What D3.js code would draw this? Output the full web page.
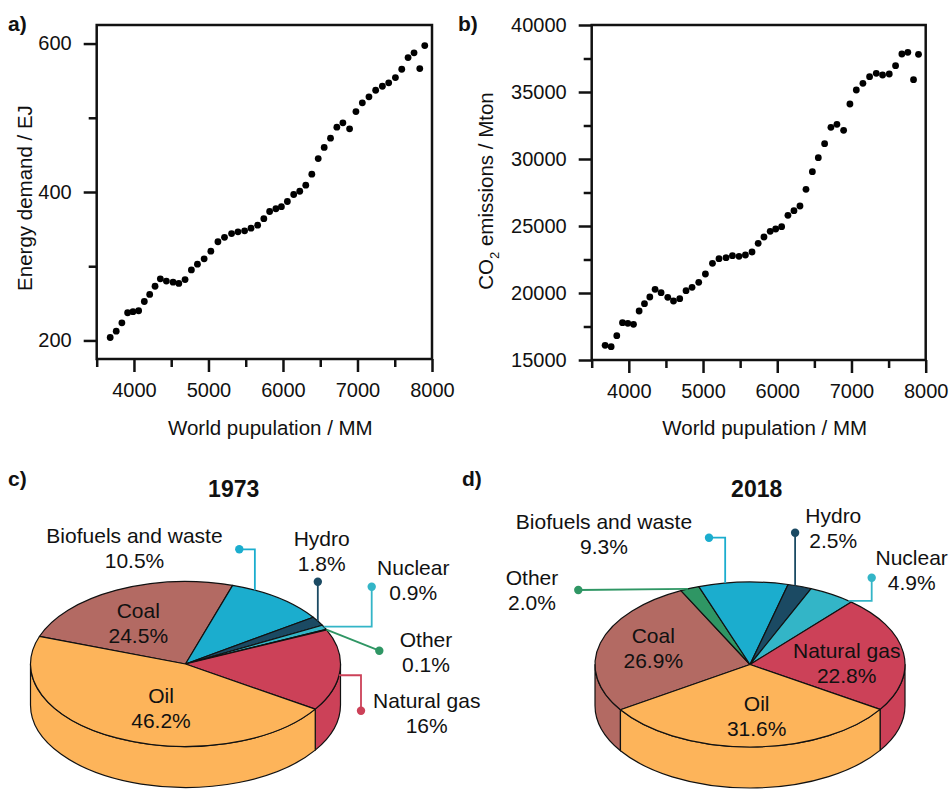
<!DOCTYPE html>
<html>
<head>
<meta charset="utf-8">
<script src="https://cdnjs.cloudflare.com/ajax/libs/d3/7.8.5/d3.min.js"></script>
<style>
body { margin: 0; background: #fff; }
text { font-family: "Liberation Sans", Arial, sans-serif; fill: #111; }
</style>
</head>
<body>
<svg id="fig" width="951" height="790"></svg>
<script>
// world population (MM), one value per year 1970-2021
var population = [3681,3762,3838,3915,3987,4063,4139,4211,4283,4354,
  4435,4525,4602,4686,4771,4852,4942,5032,5127,5215,
  5310,5396,5485,5571,5660,5743,5821,5905,5979,6059,
  6144,6225,6306,6387,6473,6553,6638,6723,6804,6894,
  6979,7065,7154,7244,7334,7419,7509,7594,7679,7759,
  7836,7903];
// energy demand (EJ)
var energyDemand = [204,212.5,223.8,237.3,238.7,240,252.5,262,273,283,
  280,278.5,276.8,282,295,302.8,310,320.3,333,339,
  344,346.4,347.7,351.2,355.3,364,373.7,377.4,380.2,387.2,
  396.6,401,409.2,424,445,460,472.5,487.3,493.2,485.1,
  508.4,520.1,528.2,537.1,542.5,547.1,554.2,565.4,581.1,587.5,
  566.3,597.3];
// CO2 emissions (Mton)
var co2Emissions = [16097,15993,16813,17784,17739,17664,18657,19200,19701,20276,
  20025,19677,19403,19577,20170,20423,20796,21418,22214,22560,
  22634,22784,22736,22836,23060,23706,24179,24600,24776,24948,
  25799,26142,26493,27739,29052,30097,31142,32366,32590,32142,
  34104,35149,35649,36142,36396,36269,36343,36963,37836,37963,
  35918,37813];

var popTicks = [4000, 5000, 6000, 7000, 8000];
var popMinor = [3500, 4500, 5500, 6500, 7500];
var energyTicks = [200, 400, 600];
var energyMinor = [300, 500];
var co2Ticks = [15000, 20000, 25000, 30000, 35000, 40000];
var co2Minor = [17500, 22500, 27500, 32500, 37500];

// energy mix shares (%), in drawing order round the pie
var categories1973 = ["Coal", "Biofuels and waste", "Hydro", "Nuclear", "Other", "Natural gas", "Oil"];
var shares1973 = [24.5, 10.5, 1.8, 0.9, 0.1, 16, 46.2];
var shareLabels1973 = ["24.5%", "10.5%", "1.8%", "0.9%", "0.1%", "16%", "46.2%"];
var categories2018 = ["Coal", "Other", "Biofuels and waste", "Hydro", "Nuclear", "Natural gas", "Oil"];
var shares2018 = [26.9, 2.0, 9.3, 2.5, 4.9, 22.8, 31.6];
var shareLabels2018 = ["26.9%", "2.0%", "9.3%", "2.5%", "4.9%", "22.8%", "31.6%"];

var colors = {
  "Oil": "#fdb45a",
  "Coal": "#b36a63",
  "Biofuels and waste": "#1badce",
  "Hydro": "#1b4a63",
  "Nuclear": "#33b5c7",
  "Other": "#2f9664",
  "Natural gas": "#cc4158"
};

var svg = d3.select("#fig");

function scatter(opt) {
  var g = svg.append("g");
  var x = d3.scaleLinear().domain([3500, 8000]).range([opt.left, opt.right]);
  var y = d3.scaleLinear().domain(opt.ydom).range([opt.bottom, opt.top]);

  // minor + major ticks
  g.append("g").attr("transform", "translate(0," + opt.bottom + ")")
    .call(d3.axisBottom(x).tickValues(popMinor).tickSize(8).tickFormat(""));
  g.append("g").attr("transform", "translate(0," + opt.bottom + ")")
    .call(d3.axisBottom(x).tickValues(popTicks).tickSize(13).tickPadding(11).tickFormat(d3.format("d")));
  g.append("g").attr("transform", "translate(" + opt.left + ",0)")
    .call(d3.axisLeft(y).tickValues(opt.minor).tickSize(8).tickFormat(""));
  g.append("g").attr("transform", "translate(" + opt.left + ",0)")
    .call(d3.axisLeft(y).tickValues(opt.ticks).tickSize(13).tickPadding(12).tickFormat(d3.format("d")));

  g.selectAll(".domain").remove();
  g.selectAll(".tick line").attr("stroke", "#111").attr("stroke-width", 2.5);
  g.selectAll(".tick text").attr("font-size", 20);

  g.append("rect")
    .attr("x", opt.left).attr("y", opt.top)
    .attr("width", opt.right - opt.left).attr("height", opt.bottom - opt.top)
    .attr("fill", "none").attr("stroke", "#111").attr("stroke-width", 2.5);

  g.append("g").selectAll("circle")
    .data(population)
    .enter().append("circle")
    .attr("cx", function (d) { return x(d); })
    .attr("cy", function (d, i) { return y(opt.values[i]); })
    .attr("r", 3.4)
    .attr("fill", "#000");

  // axis titles
  g.append("text")
    .attr("x", (opt.left + opt.right) / 2 + 6).attr("y", 435)
    .attr("text-anchor", "middle").attr("font-size", 20.5)
    .text("World pupulation / MM");

  var yt = g.append("text")
    .attr("transform", "translate(" + opt.ytitleX + "," + opt.ytitleY + ") rotate(-90)")
    .attr("text-anchor", "middle").attr("font-size", 20.5);
  opt.ytitle.forEach(function (p) {
    var t = yt.append("tspan").text(p.t);
    if (p.sub) t.attr("font-size", 13).attr("dy", 6);
    if (p.after) t.attr("dy", -6);
  });

  svg.append("text").attr("x", opt.tagX).attr("y", 31)
    .attr("font-size", 21).attr("font-weight", "bold").text(opt.tag);
}

scatter({
  left: 96.7, right: 432, top: 25, bottom: 359,
  ydom: [175, 625], ticks: energyTicks, minor: energyMinor,
  values: energyDemand,
  ytitle: [{t: "Energy demand / EJ"}], ytitleX: 32, ytitleY: 198,
  tag: "a)", tagX: 8
});

scatter({
  left: 591.7, right: 925.7, top: 25, bottom: 360,
  ydom: [15000, 40000], ticks: co2Ticks, minor: co2Minor,
  values: co2Emissions,
  ytitle: [{t: "CO"}, {t: "2", sub: true}, {t: " emissions / Mton", after: true}],
  ytitleX: 493, ytitleY: 191,
  tag: "b)", tagX: 458
});

// label layout for the pies (text position, leader-line dot and routing)
var layout1973 = {
  "Coal": {x: 138.3, y: 618.3},
  "Biofuels and waste": {x: 134.5, y: 543, dot: [239.3, 549.3], route: "hv", at: 0.235},
  "Hydro": {x: 321.7, y: 546, dot: [0, 581.7], route: "v", at: 0.48},
  "Nuclear": {x: 413.3, y: 575, dot: [371.7, 586.7], route: "vh", at: 0.35},
  "Other": {x: 426, y: 646.7, dot: [379.3, 650.7], route: "line", at: 0.5},
  "Natural gas": {x: 426.7, y: 708.3, dot: [361, 710.7], route: "vh", at: 0.56},
  "Oil": {x: 161, y: 703.3}
};
var layout2018 = {
  "Coal": {x: 653.3, y: 643.3},
  "Other": {x: 532, y: 585, dot: [578.3, 590], route: "line", at: 0.4},
  "Biofuels and waste": {x: 604, y: 529.3, dot: [709, 537.7], route: "hv", at: 0.3},
  "Hydro": {x: 833.3, y: 522.7, dot: [0, 532.7], route: "v", at: 0.3},
  "Nuclear": {x: 911.7, y: 565, dot: [871.7, 577.7], route: "vh", at: 0.92},
  "Natural gas": {x: 846.7, y: 658.3},
  "Oil": {x: 756.7, y: 710.7}
};

function pie3d(opt) {
  var rx = 155, ry = 82.5, depth = 41;
  var g = svg.append("g");
  var arcs = d3.pie().sort(null)
    .startAngle(opt.start).endAngle(opt.start + 2 * Math.PI)(opt.values);

  function pt(a, dz) {
    return [opt.cx + rx * Math.sin(a), opt.cy - ry * Math.cos(a) + (dz || 0)];
  }
  function P(p) { return p[0].toFixed(2) + "," + p[1].toFixed(2); }

  // front walls (visible half of the cylinder)
  var fronts = [[Math.PI / 2, 3 * Math.PI / 2], [-3 * Math.PI / 2, -Math.PI / 2]];
  var walls = [];
  arcs.forEach(function (d, i) {
    fronts.forEach(function (f) {
      var s = Math.max(d.startAngle, f[0]), e = Math.min(d.endAngle, f[1]);
      if (e > s) walls.push({s: s, e: e, cat: opt.cats[i]});
    });
  });
  g.selectAll(".wall").data(walls).enter().append("path")
    .attr("class", "wall")
    .attr("d", function (w) {
      return "M" + P(pt(w.s)) + "A" + rx + "," + ry + " 0 0 1 " + P(pt(w.e)) +
        "L" + P(pt(w.e, depth)) + "A" + rx + "," + ry + " 0 0 0 " + P(pt(w.s, depth)) + "Z";
    })
    .attr("fill", function (w) { return colors[w.cat]; })
    .attr("stroke", "#111").attr("stroke-width", 1.2).attr("stroke-linejoin", "round");

  // top faces
  g.selectAll(".top").data(arcs).enter().append("path")
    .attr("class", "top")
    .attr("d", function (d) {
      var large = (d.endAngle - d.startAngle) > Math.PI ? 1 : 0;
      return "M" + opt.cx + "," + opt.cy + "L" + P(pt(d.startAngle)) +
        "A" + rx + "," + ry + " 0 " + large + " 1 " + P(pt(d.endAngle)) + "Z";
    })
    .attr("fill", function (d, i) { return colors[opt.cats[i]]; })
    .attr("stroke", "#111").attr("stroke-width", 1.2).attr("stroke-linejoin", "round");

  // labels and leader lines
  arcs.forEach(function (d, i) {
    var cat = opt.cats[i], L = opt.layout[cat];
    if (L.dot) {
      var a = d.startAngle + (d.endAngle - d.startAngle) * L.at;
      var an = pt(a);
      var dot = L.route === "v" ? [an[0], L.dot[1]] : L.dot;
      var pts = [dot];
      if (L.route === "hv") pts.push([an[0], dot[1]]);
      if (L.route === "vh") pts.push([dot[0], an[1]]);
      pts.push(an);
      g.append("path").attr("d", d3.line()(pts))
        .attr("fill", "none").attr("stroke", colors[cat]).attr("stroke-width", 1.8);
      g.append("circle").attr("cx", dot[0]).attr("cy", dot[1]).attr("r", 4.2)
        .attr("fill", colors[cat]);
    }
    var t = g.append("text").attr("text-anchor", "middle").attr("font-size", 21);
    t.append("tspan").attr("x", L.x).attr("y", L.y).text(cat);
    t.append("tspan").attr("x", L.x).attr("y", L.y + 25).text(opt.labels[i]);
  });

  svg.append("text").attr("x", opt.titleX).attr("y", 497)
    .attr("text-anchor", "middle").attr("font-size", 23).attr("font-weight", "bold")
    .text(opt.title);
  svg.append("text").attr("x", opt.tagX).attr("y", 486)
    .attr("font-size", 21).attr("font-weight", "bold").text(opt.tag);
}

pie3d({
  cx: 185.5, cy: 664, start: -70.5 * Math.PI / 180,
  cats: categories1973, values: shares1973, labels: shareLabels1973,
  layout: layout1973, title: "1973", titleX: 233.7, tag: "c)", tagX: 8
});
pie3d({
  cx: 750, cy: 664.5, start: -123.3 * Math.PI / 180,
  cats: categories2018, values: shares2018, labels: shareLabels2018,
  layout: layout2018, title: "2018", titleX: 756.7, tag: "d)", tagX: 462
});
</script>
</body>
</html>
